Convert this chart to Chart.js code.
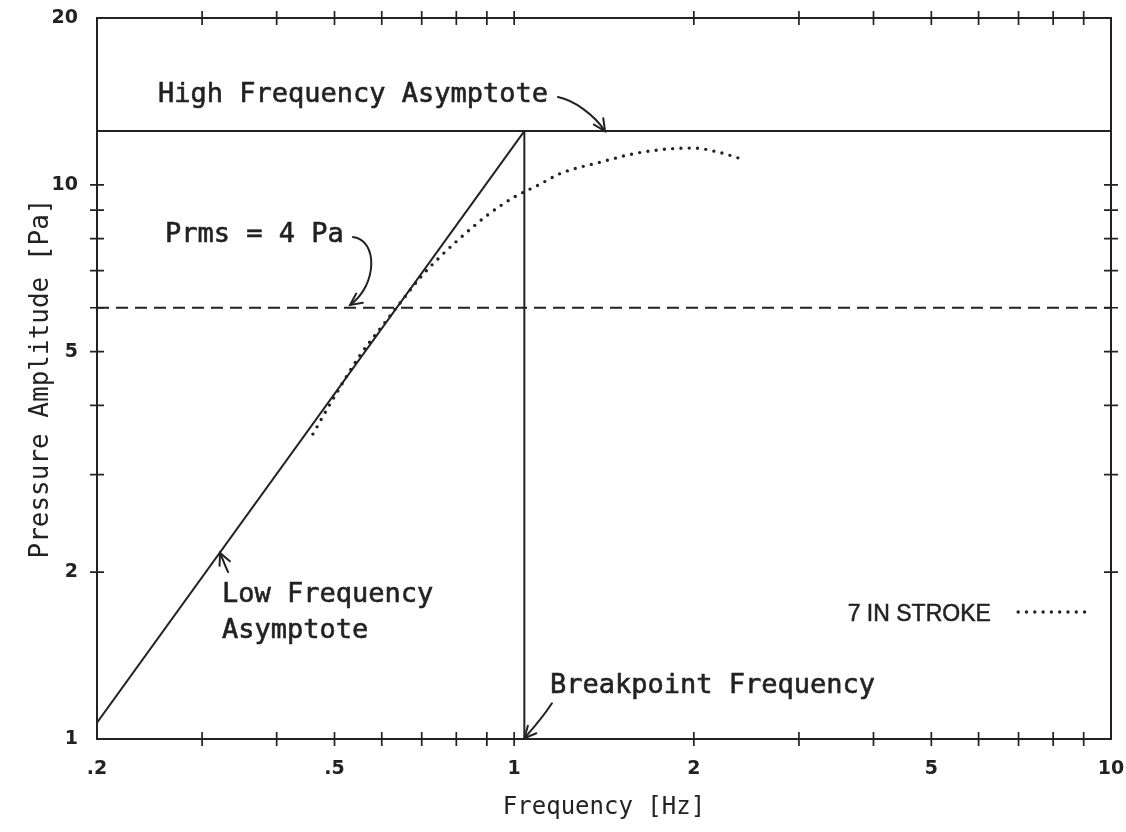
<!DOCTYPE html>
<html><head><meta charset="utf-8">
<script src="https://cdn.jsdelivr.net/npm/chart.js@4.4.1/dist/chart.umd.min.js"></script>
<style>html,body{margin:0;padding:0;background:#fff;}#wrap{width:1126px;height:832px;}</style>
</head><body><div id="wrap"><canvas id="c" width="1126" height="832"></canvas></div>
<script>
// ---- data ----
const strokeFreq = [0.46, 0.5, 0.55, 0.6, 0.65, 0.7, 0.75, 0.8, 0.9, 1.0, 1.1, 1.2, 1.4, 1.6, 1.8, 2.0, 2.2, 2.44];
const strokeAmp  = [3.55, 4.15, 4.9, 5.55, 6.2, 6.85, 7.4, 7.9, 8.8, 9.5, 10.0, 10.5, 11.0, 11.4, 11.6, 11.65, 11.45, 11.08];
const lowAsymFreq  = [0.2, 1.04];
const lowAsymAmp   = [1.07, 12.5];
const highAsymFreq = [0.2, 10];
const highAsymAmp  = [12.5, 12.5];
const breakFreq    = [1.04, 1.04];
const breakAmp     = [1, 12.5];
const prmsFreq     = [0.2, 10];
const prmsAmp      = [6.0, 6.0];
const xTickValues      = [0.2, 0.3, 0.4, 0.5, 0.6, 0.7, 0.8, 0.9, 1, 2, 3, 4, 5, 6, 7, 8, 9, 10];
const xTickLabelValues = [0.2, 0.5, 1, 2, 5, 10];
const xTickLabels      = ['.2', '.5', '1', '2', '5', '10'];
const yTickValues      = [1, 2, 3, 4, 5, 6, 7, 8, 9, 10, 20];
const yTickLabelValues = [1, 2, 5, 10, 20];
const yTickLabels      = ['1', '2', '5', '10', '20'];
const xTitle = 'Frequency [Hz]';
const yTitle = 'Pressure Amplitude [Pa]';
const legendText = '7 IN STROKE';
// annotation texts anchored in data coordinates [freq, amplitude] (left, baseline)
const noteTexts = ['High Frequency Asymptote', 'Prms = 4 Pa', 'Low Frequency', 'Asymptote', 'Breakpoint Frequency'];
const noteFreq  = [0.253, 0.26, 0.324, 0.324, 1.148];
const noteAmp   = [14.1, 7.88, 1.767, 1.521, 1.21];
// arrows: [tail, c1, c2, tip] in data coordinates
const arrowFreq = [[1.184, 1.26, 1.36, 1.42], [0.537, 0.591, 0.591, 0.531], [0.3317, 0.328, 0.325, 0.3215], [1.157, 1.12, 1.08, 1.04]];
const arrowAmp  = [[14.4, 14.2, 13.4, 12.5], [8.05, 7.95, 6.6, 6.07], [2.0, 2.05, 2.11, 2.167], [1.16, 1.1, 1.05, 1.003]];
// legend anchor
const legendFreq = [6.29, 6.99, 9.22];
const legendAmp  = [1.633, 1.695];

const INK = '#222';
const pts = (xs, ys) => xs.map((x, i) => ({x, y: ys[i]}));

const framePlugin = {
  id: 'frame',
  afterDatasetsDraw(chart) {
    const {ctx, chartArea: a, scales: {x, y}} = chart;
    ctx.save();
    ctx.strokeStyle = INK;
    ctx.lineWidth = 2;
    ctx.strokeRect(a.left, a.top, a.right - a.left, a.bottom - a.top);
    ctx.lineWidth = 1.7;
    const L = 7;
    ctx.beginPath();
    xTickValues.forEach(v => {
      const p = x.getPixelForValue(v);
      if (p <= a.left + 1 || p >= a.right - 1) return;
      ctx.moveTo(p, a.bottom - L); ctx.lineTo(p, a.bottom + L);
      ctx.moveTo(p, a.top - L); ctx.lineTo(p, a.top + L);
    });
    yTickValues.forEach(v => {
      const p = y.getPixelForValue(v);
      if (p <= a.top + 1 || p >= a.bottom - 1) return;
      ctx.moveTo(a.left - L, p); ctx.lineTo(a.left + L, p);
      ctx.moveTo(a.right - L, p); ctx.lineTo(a.right + L, p);
    });
    ctx.stroke();
    ctx.restore();
  }
};

const notesPlugin = {
  id: 'notes',
  afterDraw(chart) {
    const {ctx, scales: {x, y}} = chart;
    ctx.save();
    ctx.fillStyle = INK;
    ctx.strokeStyle = INK;
    ctx.font = '27px "DejaVu Sans Mono"';
    ctx.textBaseline = 'alphabetic';
    ctx.textAlign = 'left';
    ctx.lineWidth = 0.6;
    noteTexts.forEach((t, i) => {
      const px = x.getPixelForValue(noteFreq[i]), py = y.getPixelForValue(noteAmp[i]);
      ctx.fillText(t, px, py);
      ctx.strokeText(t, px, py);
    });
    // arrows
    ctx.lineWidth = 2;
    ctx.lineCap = 'round';
    arrowFreq.forEach((fs, i) => {
      const P = fs.map((f, k) => [x.getPixelForValue(f), y.getPixelForValue(arrowAmp[i][k])]);
      ctx.beginPath();
      ctx.moveTo(P[0][0], P[0][1]);
      ctx.bezierCurveTo(P[1][0], P[1][1], P[2][0], P[2][1], P[3][0], P[3][1]);
      ctx.stroke();
      const ang = Math.atan2(P[3][1] - P[2][1], P[3][0] - P[2][0]);
      const H = 13, W = 0.45;
      ctx.beginPath();
      ctx.moveTo(P[3][0] - H * Math.cos(ang - W), P[3][1] - H * Math.sin(ang - W));
      ctx.lineTo(P[3][0], P[3][1]);
      ctx.lineTo(P[3][0] - H * Math.cos(ang + W), P[3][1] - H * Math.sin(ang + W));
      ctx.stroke();
    });
    // legend
    const ds = chart.data.datasets[4];
    ctx.font = '23px "Liberation Sans"';
    ctx.textAlign = 'right';
    ctx.lineWidth = 0.5;
    const lx = x.getPixelForValue(legendFreq[0]), lb = y.getPixelForValue(legendAmp[0]);
    ctx.fillText(legendText, lx, lb);
    ctx.strokeText(legendText, lx, lb);
    ctx.lineWidth = ds.borderWidth;
    ctx.setLineDash(ds.borderDash);
    ctx.lineCap = 'round';
    ctx.beginPath();
    const ly = y.getPixelForValue(legendAmp[1]);
    ctx.moveTo(x.getPixelForValue(legendFreq[1]), ly);
    ctx.lineTo(x.getPixelForValue(legendFreq[2]), ly);
    ctx.stroke();
    ctx.restore();
  }
};

const lineDs = (xs, ys, extra) => Object.assign({
  data: pts(xs, ys), showLine: true, borderColor: INK, borderWidth: 2, pointRadius: 0, fill: false
}, extra || {});

new Chart(document.getElementById('c'), {
  type: 'scatter',
  data: {
    datasets: [
      lineDs(lowAsymFreq, lowAsymAmp),
      lineDs(highAsymFreq, highAsymAmp),
      lineDs(breakFreq, breakAmp),
      lineDs(prmsFreq, prmsAmp, {borderDash: [12, 7], borderWidth: 1.8}),
      lineDs(strokeFreq, strokeAmp, {borderDash: [0, 8.3], borderCapStyle: 'round', borderWidth: 3.4, cubicInterpolationMode: 'monotone'})
    ]
  },
  options: {
    responsive: false,
    animation: false,
    layout: {padding: {top: 18, right: 15, left: 0, bottom: 0}},
    plugins: {legend: {display: false}, tooltip: {enabled: false}},
    scales: {
      x: {
        type: 'logarithmic', min: 0.2, max: 10,
        afterBuildTicks: s => { s.ticks = xTickValues.map(v => ({value: v})); },
        afterFit: s => { s.height = 93; s.paddingLeft = 0; s.paddingRight = 0; },
        grid: {display: false, drawTicks: false},
        border: {display: false},
        ticks: {
          autoSkip: false, maxRotation: 0, minRotation: 0, padding: 19, color: INK,
          font: {family: 'DejaVu Sans', size: 19, weight: 'bold'},
          callback: v => { const i = xTickLabelValues.indexOf(v); return i >= 0 ? xTickLabels[i] : ''; }
        },
        title: {display: true, text: xTitle, color: INK, font: {family: 'DejaVu Sans Mono', size: 24}, padding: {top: 0, bottom: 10}}
      },
      y: {
        type: 'logarithmic', min: 1, max: 20,
        afterBuildTicks: s => { s.ticks = yTickValues.map(v => ({value: v})); },
        afterFit: s => { s.width = 97; s.paddingTop = 0; s.paddingBottom = 0; },
        grid: {display: false, drawTicks: false},
        border: {display: false},
        ticks: {
          autoSkip: false, padding: 19, color: INK,
          font: {family: 'DejaVu Sans', size: 19, weight: 'bold'},
          callback: v => { const i = yTickLabelValues.indexOf(v); return i >= 0 ? yTickLabels[i] : ''; }
        },
        title: {display: true, text: yTitle, color: INK, font: {family: 'DejaVu Sans Mono', size: 26}, padding: {top: 26, bottom: 0}}
      }
    }
  },
  plugins: [framePlugin, notesPlugin]
});
</script></body></html>
